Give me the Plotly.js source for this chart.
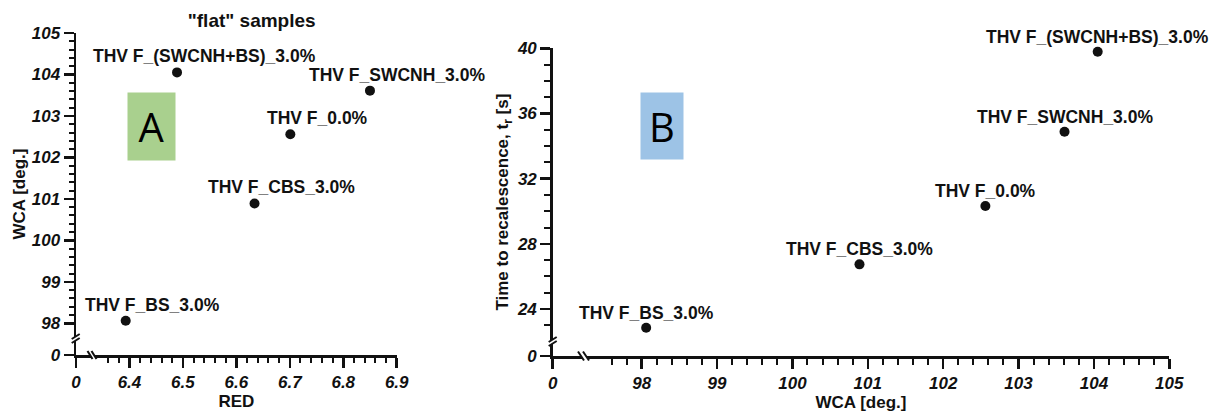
<!DOCTYPE html>
<html>
<head>
<meta charset="utf-8">
<script src="https://cdn.plot.ly/plotly-3.0.1.min.js"></script>
<style>
  html, body { margin: 0; padding: 0; background: #fff; }
  #chart { width: 1216px; height: 412px; }
</style>
</head>
<body>
<div id="chart"></div>
<script>
// Sample names
const samples = ['THV F_BS_3.0%', 'THV F_CBS_3.0%', 'THV F_0.0%', 'THV F_SWCNH_3.0%', 'THV F_(SWCNH+BS)_3.0%'];
// Roughness parameter RED of each "flat" sample
const red = [6.393, 6.634, 6.701, 6.850, 6.489];
// Water contact angle [deg.]
const wca = [98.06, 100.89, 102.56, 103.61, 104.05];
// Time to recalescence t_r [s]
const tRecal = [22.85, 26.74, 30.32, 34.88, 39.79];

// Major ticks; the first value on each axis stands for the broken-off origin "0"
const redTickVals = [6.3, 6.4, 6.5, 6.6, 6.7, 6.8, 6.9];
const redTickText = ['0', '6.4', '6.5', '6.6', '6.7', '6.8', '6.9'];
const wcaLeftTickVals = [97.236, 98, 99, 100, 101, 102, 103, 104, 105];
const wcaLeftTickText = ['0', '98', '99', '100', '101', '102', '103', '104', '105'];
const wcaBottomTickVals = [96.82, 98, 99, 100, 101, 102, 103, 104, 105];
const wcaBottomTickText = ['0', '98', '99', '100', '101', '102', '103', '104', '105'];
const tTickVals = [21.115, 24, 28, 32, 36, 40];
const tTickText = ['0', '24', '28', '32', '36', '40'];

const W = 1216, H = 412;
const fx = p => p / W;          // pixel -> paper (horizontal)
const fy = p => 1 - p / H;      // pixel -> paper (vertical)

// Minor tick positions between the majors
function minorTicks(start, stop, step, every) {
  const out = [];
  const n = Math.round((stop - start) / step);
  for (let i = 0; i <= n; i++) {
    if (i % every === 0) continue;
    out.push(+(start + i * step).toFixed(4));
  }
  return out;
}
const redMinor = [6.36, 6.38].concat(minorTicks(6.4, 6.9, 0.02, 5));
const wcaLeftMinor = minorTicks(98, 105, 0.2, 5);
const wcaBottomMinor = [97.6, 97.8].concat(minorTicks(98, 105, 0.2, 5));
const tMinor = [23].concat(minorTicks(24, 40, 1, 4));

const FONT = 'Liberation Sans, Arial, sans-serif';
const INK = '#111';
// bold italic tick labels
const bi = arr => arr.map(t => '<b><i>' + t + '</i></b>');

function axis(extra) {
  return Object.assign({
    showline: true, linecolor: INK, linewidth: 2.5,
    ticks: 'outside', ticklen: 10, tickwidth: 2.5, tickcolor: INK,
    tickmode: 'array', showgrid: false, zeroline: false,
    tickfont: { family: FONT, size: 17, color: INK },
    fixedrange: true
  }, extra);
}
function minor(vals, len) {
  return { tickmode: 'array', tickvals: vals, ticks: 'outside', ticklen: len, tickwidth: 2, tickcolor: INK, showgrid: false };
}

const traces = [
  { type: 'scatter', mode: 'markers', x: red, y: wca, xaxis: 'x', yaxis: 'y',
    marker: { size: 10, color: INK }, cliponaxis: false, hovertext: samples },
  { type: 'scatter', mode: 'markers', x: wca, y: tRecal, xaxis: 'x2', yaxis: 'y2',
    marker: { size: 10, color: INK }, cliponaxis: false, hovertext: samples }
];

// Point labels
const LABEL_FONT = { family: FONT, size: 17.5, weight: 'bold', color: INK };
const annotations = [];
samples.forEach((s, i) => {
  annotations.push({ xref: 'x', yref: 'y', x: red[i], y: wca[i], text: '<b>' + s + '</b>', showarrow: false,
    xanchor: 'center', yanchor: 'middle', xshift: 27, yshift: 16, font: LABEL_FONT });
  annotations.push({ xref: 'x2', yref: 'y2', x: wca[i], y: tRecal[i], text: '<b>' + s + '</b>', showarrow: false,
    xanchor: 'center', yanchor: 'middle', xshift: 0, yshift: 15, font: LABEL_FONT });
});
// Panel letters
annotations.push({ xref: 'paper', yref: 'paper', x: fx(151.7), y: fy(126.3), text: 'A', showarrow: false,
  xanchor: 'center', yanchor: 'middle', width: 47, height: 67, borderpad: 0, bgcolor: '#a9d08e',
  font: { family: 'Open Sans, sans-serif', size: 40, color: '#000' } });
annotations.push({ xref: 'paper', yref: 'paper', x: fx(661.5), y: fy(126), text: 'B', showarrow: false,
  xanchor: 'center', yanchor: 'middle', width: 42, height: 66, borderpad: 0, bgcolor: '#9dc3e6',
  font: { family: 'Open Sans, sans-serif', size: 40, color: '#000' } });

// Axis break marks: a white gap crossed by two short strokes
function breakMarks(cx, cy, vertical, w, h, gap) {
  const out = [];
  let a, b, c, d;
  if (vertical) {
    // strokes "/" across a vertical axis line
    a = [cx - w / 2, cy + h / 2 - gap / 2]; b = [cx + w / 2, cy - h / 2 - gap / 2];
    c = [cx - w / 2, cy + h / 2 + gap / 2]; d = [cx + w / 2, cy - h / 2 + gap / 2];
  } else {
    // strokes "\" across a horizontal axis line
    a = [cx - w / 2 - gap / 2, cy - h / 2]; b = [cx + w / 2 - gap / 2, cy + h / 2];
    c = [cx - w / 2 + gap / 2, cy - h / 2]; d = [cx + w / 2 + gap / 2, cy + h / 2];
  }
  const P = p => `${fx(p[0])},${fy(p[1])}`;
  out.push({ type: 'path', xref: 'paper', yref: 'paper', layer: 'above',
    path: `M${P(a)} L${P(b)} L${P(d)} L${P(c)} Z`, fillcolor: '#fff', line: { width: 0 } });
  [[a, b], [c, d]].forEach(([p, q]) => out.push({ type: 'line', xref: 'paper', yref: 'paper', layer: 'above',
    x0: fx(p[0]), y0: fy(p[1]), x1: fx(q[0]), y1: fy(q[1]), line: { color: INK, width: 2 } }));
  return out;
}
const shapes = [].concat(
  breakMarks(75.7, 338.5, true, 8, 5, 4),
  breakMarks(92, 355, false, 5, 8, 4),
  breakMarks(552.7, 341.5, true, 8, 5, 4),
  breakMarks(583.5, 356, false, 6, 9, 5)
);

const TITLE_FONT = { family: FONT, size: 17, weight: 'bold', color: INK };
const layout = {
  width: W, height: H,
  margin: { l: 0, r: 0, t: 0, b: 0 },
  paper_bgcolor: '#fff', plot_bgcolor: '#fff',
  showlegend: false,
  font: { family: FONT, color: INK },
  title: { text: '<b>"flat" samples</b>', font: { family: FONT, size: 19, weight: 'bold', color: INK },
    x: fx(251.7), xanchor: 'center', y: fy(20), yanchor: 'middle' },
  xaxis: axis({ domain: [fx(76), fx(396.7)], range: [6.3, 6.9], anchor: 'y',
    tickvals: redTickVals, ticktext: bi(redTickText), minor: minor(redMinor, 5),
    title: { text: '<b>RED</b>', font: TITLE_FONT, standoff: 4 } }),
  yaxis: axis({ domain: [fy(355), fy(33)], range: [97.236, 105], anchor: 'x',
    tickvals: wcaLeftTickVals, ticktext: bi(wcaLeftTickText), minor: minor(wcaLeftMinor, 5),
    title: { text: '<b>WCA [deg.]</b>', font: TITLE_FONT, standoff: 2 } }),
  xaxis2: axis({ domain: [fx(552.7), fx(1169.3)], range: [96.82, 105], anchor: 'y2',
    tickvals: wcaBottomTickVals, ticktext: bi(wcaBottomTickText), minor: minor(wcaBottomMinor, 6),
    title: { text: '<b>WCA [deg.]</b>', font: TITLE_FONT, standoff: 4 } }),
  yaxis2: axis({ domain: [fy(356), fy(48.3)], range: [21.115, 40], anchor: 'x2',
    tickvals: tTickVals, ticktext: bi(tTickText), minor: minor(tMinor, 6),
    title: { text: '<b>Time to recalescence, t<sub>r</sub> [s]</b>', font: TITLE_FONT, standoff: 4 } }),
  annotations: annotations,
  shapes: shapes
};

Plotly.newPlot('chart', traces, layout, { displayModeBar: false, staticPlot: true });
</script>
</body>
</html>
